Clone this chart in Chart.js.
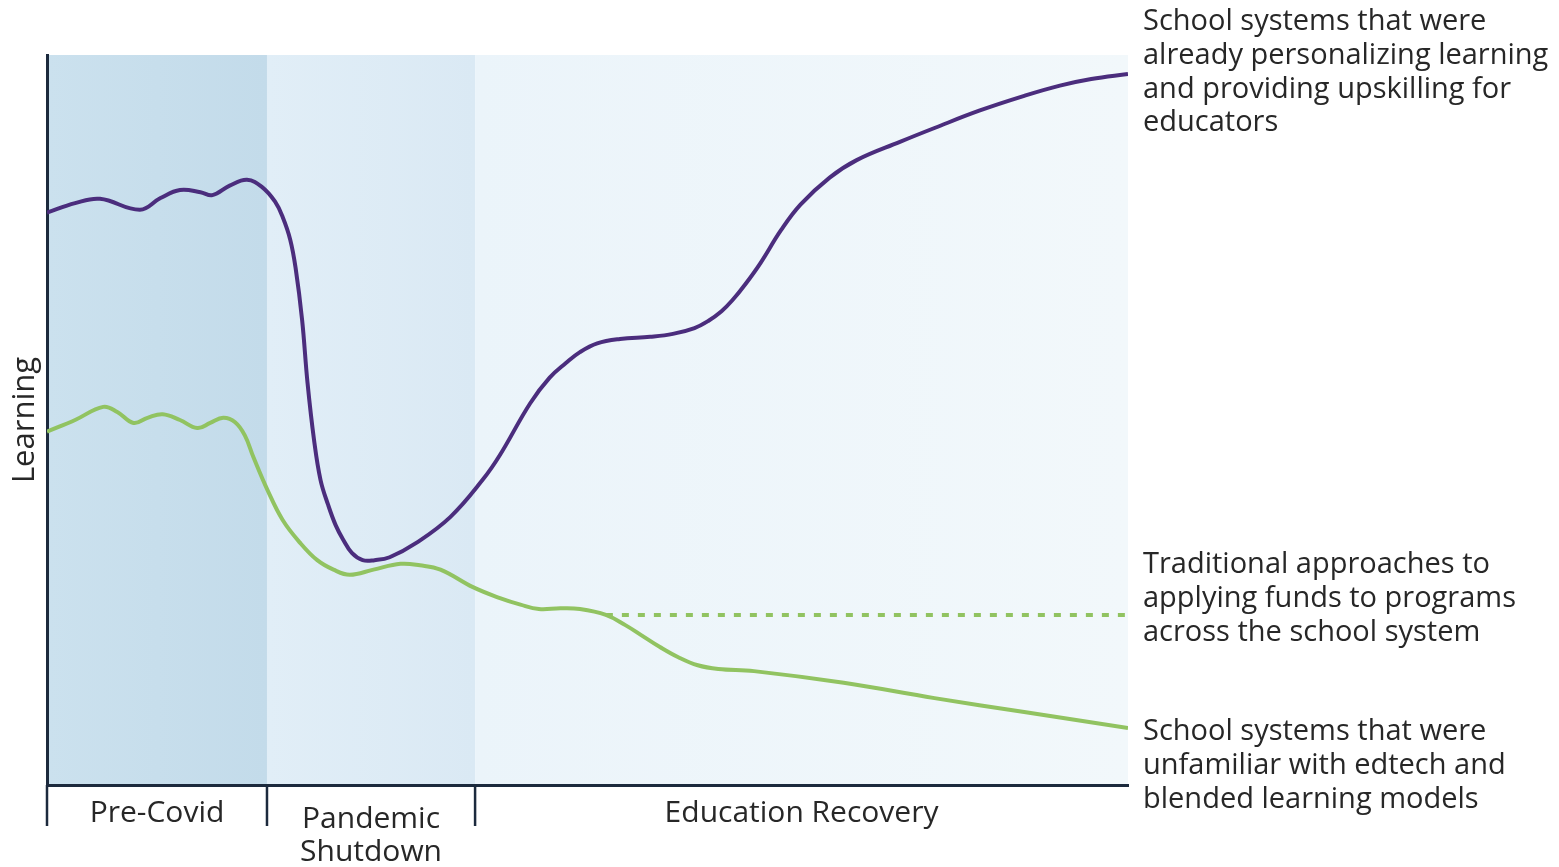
<!DOCTYPE html>
<html>
<head>
<meta charset="utf-8">
<script src="https://cdn.jsdelivr.net/npm/chart.js@4.4.1/dist/chart.umd.min.js"></script>
<style>
  html, body { margin: 0; padding: 0; background: #ffffff; }
  #wrap { width: 1559px; height: 867px; position: relative; }
</style>
</head>
<body>
<div id="wrap"><canvas id="chart"></canvas></div>
<script>
// time runs 0..100 across the plot, learning 0..100 bottom to top
const phases = ['Pre-Covid', ['Pandemic', 'Shutdown'], 'Education Recovery'];
const phaseEdges = [0, 20.35, 39.6, 100];
const phaseColors = [['#cbe1ee', '#c3dbea'], ['#e1eef7', '#dae9f4'], ['#ebf4fa', '#f2f8fb']];

const personalizedX = [0, 2.6, 4.9, 8.6, 10.5, 12.3, 14.2, 15.3, 16.9, 18.5, 19.9, 21.1, 21.8, 22.5, 23.0, 23.6, 24.1, 24.7, 25.3, 26.0, 26.7, 27.4, 28.2, 29.2, 30.3, 31.7, 34.2, 37.3, 40.3, 41.9, 44.7, 46.5, 48.0, 49.3, 50.9, 53.0, 55.8, 57.9, 59.9, 61.2, 62.4, 63.4, 64.6, 66.0, 67.9, 69.7, 72.4, 74.9, 78.9, 82.1, 86.3, 90.4, 93.7, 96.6, 100];
const personalizedY = [78.4, 79.7, 80.3, 78.8, 80.4, 81.5, 81.2, 80.8, 82.1, 82.9, 81.9, 79.9, 77.8, 74.7, 70.8, 63.7, 55.1, 47.3, 41.8, 38.4, 35.6, 33.6, 31.8, 30.8, 30.8, 31.2, 33.2, 36.7, 41.8, 45.2, 52.3, 55.8, 57.8, 59.3, 60.5, 61.1, 61.4, 61.8, 62.6, 63.6, 64.9, 66.4, 68.6, 71.5, 76.0, 79.5, 83.2, 85.6, 88.1, 90.0, 92.4, 94.4, 95.8, 96.7, 97.4];

const unfamiliarX = [0, 2.6, 5.2, 6.5, 8.0, 9.3, 10.7, 12.3, 13.9, 15.1, 16.3, 17.4, 18.3, 19.1, 20.4, 21.8, 23.4, 25.0, 26.5, 28.0, 30.2, 32.7, 34.5, 36.4, 39.4, 41.9, 43.8, 45.5, 47.5, 49.3, 51.7, 53.5, 55.0, 56.7, 58.4, 60.2, 62.1, 65.4, 73.7, 82.1, 90.4, 100];
const unfamiliarY = [48.4, 50.0, 51.8, 51.1, 49.6, 50.3, 50.8, 50.0, 48.9, 49.6, 50.3, 49.7, 47.9, 44.9, 40.4, 36.3, 33.2, 30.8, 29.5, 28.8, 29.5, 30.3, 30.1, 29.5, 27.1, 25.6, 24.7, 24.1, 24.2, 24.1, 23.3, 21.9, 20.5, 18.9, 17.5, 16.4, 15.9, 15.6, 14.0, 11.9, 10.0, 7.8];

const traditionalX = [51.7, 100];
const traditionalY = [23.3, 23.3];

const personalizedText = ['School systems that were', 'already personalizing learning', 'and providing upskilling for', 'educators'];
const traditionalText = ['Traditional approaches to', 'applying funds to programs', 'across the school system'];
const unfamiliarText = ['School systems that were', 'unfamiliar with edtech and', 'blended learning models'];

const purple = '#4b2d7d';
const green = '#91c361';
const ink = '#272727';
const axisInk = '#1c2a3d';
const fontFamily = '"Open Sans", "Noto Sans", sans-serif';

function pts(xs, ys) {
  return xs.map((x, i) => ({ x: x, y: ys[i] }));
}

const bandsPlugin = {
  id: 'bands',
  beforeDraw(chart) {
    const ctx = chart.ctx, a = chart.chartArea, xs = chart.scales.x;
    ctx.save();
    for (let i = 0; i < phases.length; i++) {
      const x0 = xs.getPixelForValue(phaseEdges[i]);
      const x1 = xs.getPixelForValue(phaseEdges[i + 1]);
      const g = ctx.createLinearGradient(x0, 0, x1, 0);
      g.addColorStop(0, phaseColors[i][0]);
      g.addColorStop(1, phaseColors[i][1]);
      ctx.fillStyle = g;
      ctx.fillRect(x0, a.top, x1 - x0, a.bottom - a.top);
    }
    ctx.restore();
  },
  afterDraw(chart) {
    const ctx = chart.ctx, a = chart.chartArea, xs = chart.scales.x, ys = chart.scales.y;
    ctx.save();
    // phase dividers under the axis
    ctx.strokeStyle = axisInk;
    ctx.lineWidth = 2.5;
    for (let i = 0; i < phases.length; i++) {
      const x = xs.getPixelForValue(phaseEdges[i]);
      ctx.beginPath();
      ctx.moveTo(x, a.bottom);
      ctx.lineTo(x, a.bottom + 41);
      ctx.stroke();
    }
    ctx.fillStyle = ink;
    ctx.font = '30px ' + fontFamily;
    ctx.textAlign = 'center';
    ctx.textBaseline = 'middle';
    for (let i = 0; i < phases.length; i++) {
      const cx = (xs.getPixelForValue(phaseEdges[i]) + xs.getPixelForValue(phaseEdges[i + 1])) / 2;
      if (Array.isArray(phases[i])) {
        phases[i].forEach((t, j) => ctx.fillText(t, cx, a.bottom + 34 + j * 33));
      } else {
        ctx.fillText(phases[i], cx, a.bottom + 28);
      }
    }
    // y title
    ctx.save();
    ctx.translate(25, (a.top + a.bottom) / 2);
    ctx.rotate(-Math.PI / 2);
    ctx.font = '31px ' + fontFamily;
    ctx.fillText('Learning', 0, 0);
    ctx.restore();

    // right hand notes
    ctx.textAlign = 'left';
    ctx.font = '29px ' + fontFamily;
    const tx = a.right + 15;
    const lh = 33.7;
    const yTop = ys.getPixelForValue(personalizedY[personalizedY.length - 1]) - 52;
    personalizedText.forEach((t, j) => ctx.fillText(t, tx, yTop + j * lh));
    const yMid = ys.getPixelForValue(traditionalY[1]) - 50;
    traditionalText.forEach((t, j) => ctx.fillText(t, tx, yMid + j * lh));
    const yBot = ys.getPixelForValue(unfamiliarY[unfamiliarY.length - 1]) + 4;
    unfamiliarText.forEach((t, j) => ctx.fillText(t, tx, yBot + j * lh));
    ctx.restore();
  }
};

new Chart('chart', {
  type: 'line',
  data: {
    datasets: [{
      label: 'Personalized',
      data: pts(personalizedX, personalizedY),
      borderColor: purple,
      borderWidth: 4,
      pointRadius: 0,
      tension: 0.4
    }, {
      label: 'Traditional',
      data: pts(traditionalX, traditionalY),
      borderColor: green,
      borderWidth: 4,
      borderDash: [7, 9],
      pointRadius: 0
    }, {
      label: 'Unfamiliar',
      data: pts(unfamiliarX, unfamiliarY),
      borderColor: green,
      borderWidth: 4,
      pointRadius: 0,
      tension: 0.4
    }]
  },
  options: {
    responsive: true,
    maintainAspectRatio: false,
    animation: false,
    layout: { padding: { left: 47, right: 431, top: 55, bottom: 82 } },
    plugins: { legend: { display: false }, tooltip: { enabled: false } },
    scales: {
      x: {
        type: 'linear', min: 0, max: 100,
        grid: { display: false, drawTicks: false },
        border: { display: true, color: axisInk, width: 3 },
        ticks: { display: false },
        afterFit(s) { s.height = 0; }
      },
      y: {
        min: 0, max: 100,
        grid: { display: false, drawTicks: false },
        border: { display: true, color: axisInk, width: 3 },
        ticks: { display: false },
        afterFit(s) { s.width = 0; }
      }
    }
  },
  plugins: [bandsPlugin]
});
</script>
</body>
</html>
